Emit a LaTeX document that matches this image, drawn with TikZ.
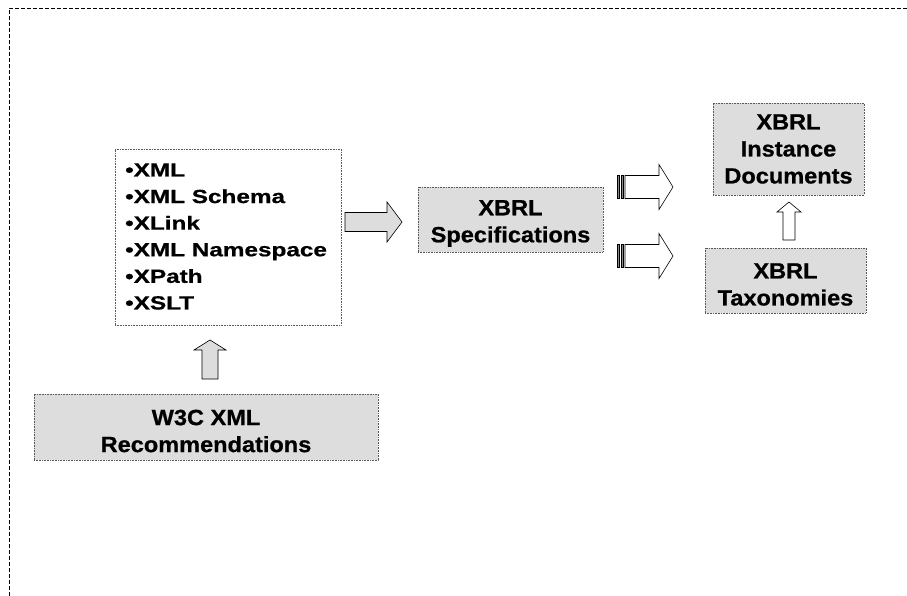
\documentclass[tikz,border=0pt]{standalone}
\usepackage{fontspec}
\newfontfamily\boxfnt{Liberation Sans}[FakeStretch=1.07,FakeBold=0.8]
\newfontfamily\listfnt{Liberation Sans}[FakeStretch=1.28,FakeBold=0.8]
\definecolor{boxgray}{HTML}{DDDDDD}
\definecolor{stripegray}{HTML}{8A8A8A}
\begin{document}
\begin{tikzpicture}[x=1pt,y=-1pt]
\tikzset{
  box/.style={draw=gray!70!black, densely dotted, fill=boxgray, line width=0.6pt, inner sep=0pt},
  boxtext/.style={inner sep=0pt, align=center, text=black,
    font=\boxfnt\bfseries\fontsize{22}{27}\selectfont},
  listbox/.style={draw=gray!70!black, densely dotted, fill=white, line width=0.6pt, inner sep=0pt},
  blk/.style={draw=black, line width=0.6pt, line join=miter},
  stripe/.style={draw=black, line width=0.4pt, fill=stripegray},
}
\useasboundingbox (0,0) rectangle (907,596);
% outer dashed frame
\draw[dash pattern=on 4pt off 2pt, line width=0.7pt] (9,596) -- (9,8) -- (907,8);

% boxes
\node[listbox, minimum width=226pt, minimum height=176pt] (list) at (228,237) {};
\node[anchor=west, align=left, inner sep=0pt,
      font=\listfnt\bfseries\fontsize{19}{26.6}\selectfont] (items) at (125,236.5)
  {•XML\\•XML Schema\\•XLink\\•XML Namespace\\•XPath\\•XSLT};
\node[box, minimum width=185pt, minimum height=65pt] (spec) at (510.5,219.5) {};
\node[boxtext] (specT) at ([yshift=-4pt]spec.center) {XBRL\\Specifications};
\node[box, minimum width=151pt, minimum height=92pt] (inst) at (788.5,149) {};
\node[boxtext] (instT) at (inst.center) {XBRL\\Instance\\Documents};
\node[box, minimum width=161pt, minimum height=65pt] (tax) at (785.5,280.5) {};
\node[boxtext] (taxT) at ([yshift=-4pt]tax.center) {XBRL\\Taxonomies};
\node[box, minimum width=344pt, minimum height=66pt] (w3c) at (206,427) {};
\node[boxtext] (w3cT) at ([yshift=-4pt]w3c.center) {W3C XML\\Recommendations};

% gray right arrow: list -> spec
\draw[blk, fill=boxgray] (345,212.5) -- (387,212.5) -- (387,202) -- (402,222) -- (387,242)
  -- (387,231.5) -- (345,231.5) -- cycle;
% gray up arrow: w3c -> list
\draw[blk, fill=boxgray] (202,379) -- (202,350) -- (194,350) -- (210,340) -- (226,350)
  -- (218,350) -- (218,379) -- cycle;
% white up arrow: tax -> inst
\draw[blk, fill=white] (783,240) -- (783,212) -- (777,212) -- (789,202) -- (801,212)
  -- (795,212) -- (795,240) -- cycle;
% striped arrows spec -> inst / tax
\foreach \c in {187,256}{
  \draw[stripe] (617,\c-11.5) rectangle (619.5,\c+11.5);
  \draw[stripe] (621,\c-11.5) rectangle (623.5,\c+11.5);
  \draw[blk, fill=white] (625,\c-11.5) -- (659,\c-11.5) -- (659,\c-22.5) -- (673,\c)
    -- (659,\c+22.5) -- (659,\c+11.5) -- (625,\c+11.5) -- cycle;
}
\end{tikzpicture}
\end{document}
